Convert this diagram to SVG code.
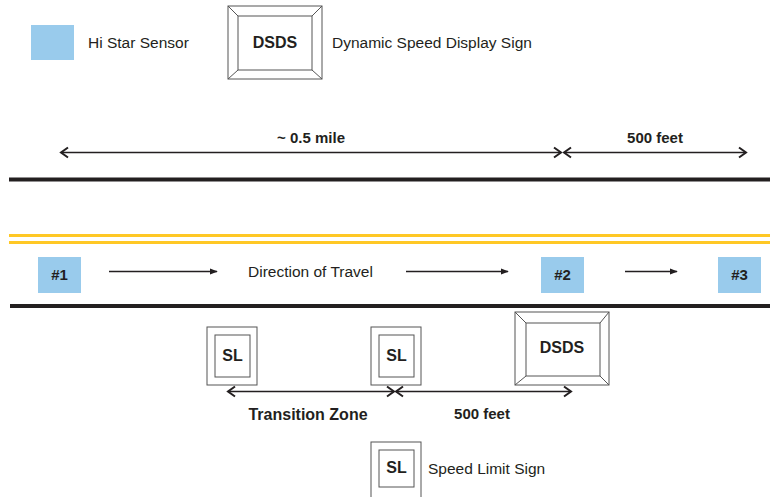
<svg xmlns="http://www.w3.org/2000/svg" width="770" height="497" viewBox="0 0 770 497">
<style>
.t{font-family:"Liberation Sans",Arial,sans-serif;font-size:15.5px;fill:#231f20}
.b{font-family:"Liberation Sans",Arial,sans-serif;font-size:15px;font-weight:bold;fill:#231f20}
.sensor{fill:#99cbec}
.sign{fill:#fff;stroke:#555;stroke-width:1}
.dim{stroke:#231f20;stroke-width:1.6;fill:none}
.head{stroke:#231f20;stroke-width:2;fill:none}
.dir{stroke:#231f20;stroke-width:1.3;fill:none}
.road{stroke:#231f20;stroke-width:4}
.yel{stroke:#ffc825;stroke-width:3}
</style>
<defs>
<marker id="ah" viewBox="0 0 10 10" refX="9" refY="5" markerWidth="8" markerHeight="8" markerUnits="userSpaceOnUse" orient="auto">
<path d="M0,1 L10,5 L0,9 Z" fill="#231f20"/>
</marker>
</defs>

<g id="road">
<line class="road" x1="9" y1="179.5" x2="770" y2="179.5"/>
<line class="yel" x1="9" y1="235.5" x2="770" y2="235.5"/>
<line class="yel" x1="9" y1="242.5" x2="770" y2="242.5"/>
<line class="road" x1="10" y1="306" x2="770" y2="306"/>
</g>

<g id="legend-sensor">
<rect class="sensor" x="31" y="25" width="43" height="35"/>
<text class="t" x="88" y="48">Hi Star Sensor</text>
</g>

<g id="legend-dsds">
<rect class="sign" x="228" y="6" width="94" height="73"/>
<rect class="sign" x="238" y="16" width="74" height="54"/>
<path class="sign" d="M228,6 L238,16 M322,6 L312,16 M228,79 L238,70 M322,79 L312,70"/>
<text class="b" x="275" y="48" text-anchor="middle" style="font-size:16px">DSDS</text>
<text class="t" x="332" y="48">Dynamic Speed Display Sign</text>
</g>

<g id="sensor1">
<rect class="sensor" x="38" y="257" width="43" height="36"/>
<text class="b" x="59.5" y="280" text-anchor="middle">#1</text>
</g>
<g id="sensor2">
<rect class="sensor" x="541" y="257" width="43" height="36"/>
<text class="b" x="562.5" y="280" text-anchor="middle">#2</text>
</g>
<g id="sensor3">
<rect class="sensor" x="718" y="257" width="43" height="36"/>
<text class="b" x="739.5" y="280" text-anchor="middle">#3</text>
</g>

<g id="direction-label">
<text class="t" x="248" y="277">Direction of Travel</text>
</g>

<g id="sl1">
<rect class="sign" x="207" y="327" width="50" height="58"/>
<rect class="sign" x="215" y="335" width="35" height="42"/>
<text class="b" x="232.5" y="361" text-anchor="middle" style="font-size:16px">SL</text>
</g>
<g id="sl2">
<rect class="sign" x="371" y="327" width="50" height="58"/>
<rect class="sign" x="379" y="335" width="35" height="42"/>
<text class="b" x="396.5" y="361" text-anchor="middle" style="font-size:16px">SL</text>
</g>
<g id="dsds2">
<rect class="sign" x="515" y="312" width="94" height="73"/>
<rect class="sign" x="526" y="323" width="74" height="53"/>
<path class="sign" d="M515,312 L526,323 M609,312 L600,323 M515,385 L526,376 M609,385 L600,376"/>
<text class="b" x="562" y="353" text-anchor="middle" style="font-size:16px">DSDS</text>
</g>

<g id="legend-sl">
<rect class="sign" x="371" y="442" width="50" height="60"/>
<rect class="sign" x="379" y="450" width="35" height="37"/>
<text class="b" x="396.5" y="473" text-anchor="middle" style="font-size:16px">SL</text>
<text class="t" x="428" y="474">Speed Limit Sign</text>
</g>

<g id="dimension-labels">
<text class="b" x="311" y="143" text-anchor="middle">~ 0.5 mile</text>
<text class="b" x="655" y="143" text-anchor="middle">500 feet</text>
<text class="b" x="308" y="420" text-anchor="middle" style="font-size:16px">Transition Zone</text>
<text class="b" x="482" y="419" text-anchor="middle">500 feet</text>
</g>

<g id="connectors">
<line class="dim" x1="61" y1="152.5" x2="561" y2="152.5"/>
<path class="head" d="M68,147.5 L61,152.5 L68,157.5 M554,147.5 L561,152.5 L554,157.5"/>
<line class="dim" x1="564" y1="152.5" x2="746" y2="152.5"/>
<path class="head" d="M571,147.5 L564,152.5 L571,157.5 M739,147.5 L746,152.5 L739,157.5"/>

<line class="dir" x1="109" y1="271.5" x2="217" y2="271.5" marker-end="url(#ah)"/>
<line class="dir" x1="406" y1="271.5" x2="508" y2="271.5" marker-end="url(#ah)"/>
<line class="dir" x1="625" y1="271.5" x2="677" y2="271.5" marker-end="url(#ah)"/>

<line class="dim" x1="228" y1="391.5" x2="394" y2="391.5"/>
<path class="head" d="M235,386.5 L228,391.5 L235,396.5 M387,386.5 L394,391.5 L387,396.5"/>
<line class="dim" x1="396" y1="391.5" x2="571" y2="391.5"/>
<path class="head" d="M403,386.5 L396,391.5 L403,396.5 M564,386.5 L571,391.5 L564,396.5"/>
</g>
</svg>
